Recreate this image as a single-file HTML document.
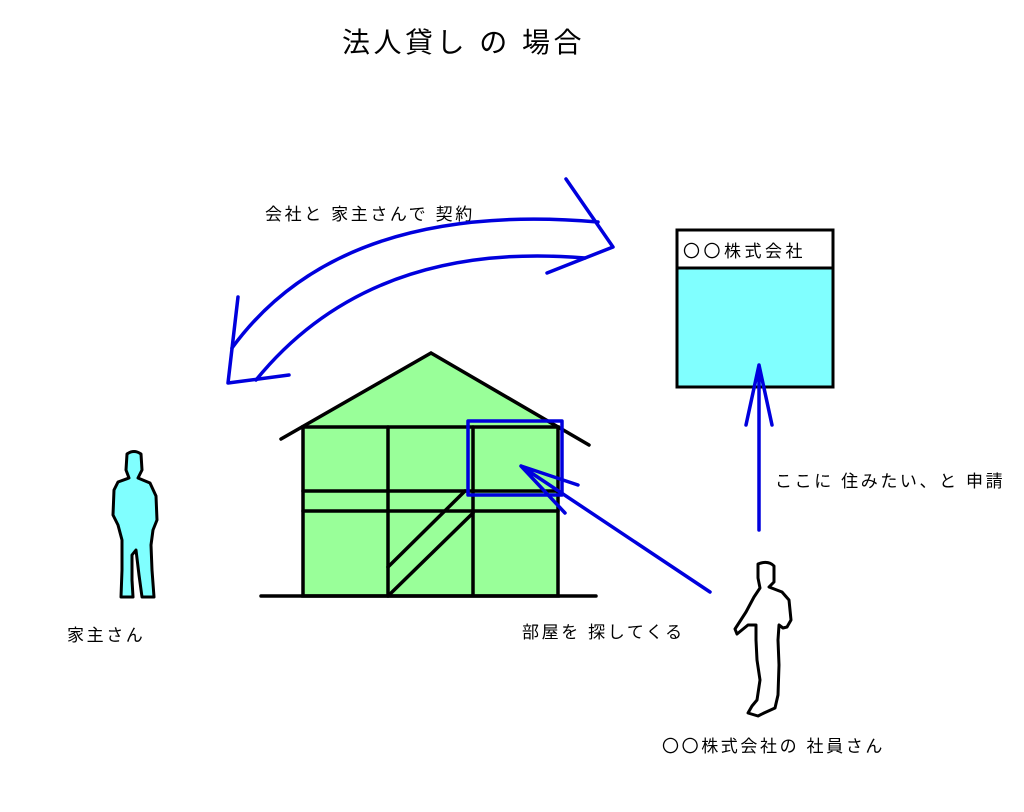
<!DOCTYPE html>
<html><head><meta charset="utf-8"><style>
body{margin:0;background:#fff}
svg{display:block}
text{font-family:"Liberation Sans","Noto Sans CJK JP",sans-serif;fill:#000}
</style></head><body>
<svg width="1024" height="812" viewBox="0 0 1024 812" xmlns="http://www.w3.org/2000/svg">
<rect width="1024" height="812" fill="#fff"/>
<text x="342" y="52" font-size="28" letter-spacing="3.5">法人貸し の 場合</text>
<text x="265" y="220" font-size="17" letter-spacing="2.6">会社と 家主さんで 契約</text>
<g fill="none" stroke="#0000dd" stroke-width="3.5" stroke-linecap="round" stroke-linejoin="round">
<path d="M232,348 Q340,200 598,222"/>
<path d="M256,380 Q370,240 585,258"/>
<path d="M566,179 L613,247 L547,273"/>
<path d="M238,297 L228,383 L289,375"/>
</g>
<g stroke="#000" stroke-width="3.5" stroke-linecap="round">
<polygon points="303,427 431,353 558,427" fill="#99ff99" stroke="none"/>
<rect x="303" y="427" width="255" height="169" fill="#99ff99"/>
<path d="M281,439 L431,353 L589,445" fill="none"/>
<path d="M388,427 V596 M473,427 V596 M303,491 H558 M303,511 H558 M261,596 H596" fill="none"/>
<path d="M388,596 L473,513 M388,567 L465,491" fill="none"/>
</g>
<g fill="none" stroke="#0000dd" stroke-width="3.5" stroke-linecap="round" stroke-linejoin="round">
<rect x="468" y="421" width="94" height="74"/>
<path d="M710,592 L521,466 M578,485 L521,466 L565,513"/>
</g>
<rect x="677" y="230" width="156" height="157" fill="#80ffff" stroke="#000" stroke-width="3"/>
<rect x="677" y="230" width="156" height="38" fill="#fff" stroke="#000" stroke-width="3"/>
<text x="683" y="257" font-size="17" letter-spacing="3.5">〇〇株式会社</text>
<g fill="none" stroke="#0000dd" stroke-width="3.5" stroke-linecap="round" stroke-linejoin="round">
<path d="M759,530 V365 M746,425 L759,365 L772,425"/>
</g>
<text x="775" y="487" font-size="17" letter-spacing="2.6">ここに 住みたい、と 申請</text>
<text x="522" y="638" font-size="17" letter-spacing="2.6">部屋を 探してくる</text>
<text x="67" y="641" font-size="17" letter-spacing="2.6">家主さん</text>
<text x="662" y="752" font-size="17" letter-spacing="2.6">〇〇株式会社の 社員さん</text>
<path d="M127,454 Q134,449 141,454 L142,470 L138,478 L150,483 L156,496 L157,520 L153,530 L151,545 L152,570 L154,597 L142,597 L139,575 L136,550 L132,555 L132,580 L133,597 L121,597 L122,570 L122,540 L118,525 L113,515 L114,490 L118,482 L129,478 L126,470 Z" fill="#80ffff" stroke="#000" stroke-width="3" stroke-linejoin="round"/>
<path d="M758,564 Q768,560 774,566 L774,582 L769,587 L782,592 L789,600 L791,620 L787,627 L783,628 L779,625 L778,640 L779,665 L778,695 L775,708 L764,713 L758,716 L748,713 L752,706 L757,700 L760,680 L757,660 L756,640 L756,625 L748,625 L737,634 L735,629 L746,612 L754,597 L760,588 L758,578 Z" fill="#fff" stroke="#000" stroke-width="3" stroke-linejoin="round"/>
</svg>
</body></html>
